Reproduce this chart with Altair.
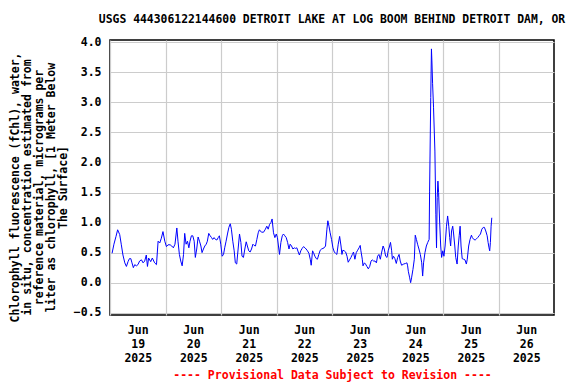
import altair as alt
import pandas as pd

# Hours since 2025-06-19 00:00 and chlorophyll values
hours_a = [0.9, 1.7, 2.6, 3.3, 4.2, 4.9, 5.6, 6.4, 7.1, 7.8,
           8.4, 9.0, 9.5, 10.1, 10.7, 11.4, 12.1, 12.8, 13.6, 14.3,
           15.0, 15.7, 16.2, 16.7, 17.6, 18.3, 19.3, 20.1, 20.8, 21.5,
           22.2, 22.9, 23.7, 24.4, 25.1]
chl_a = [0.49, 0.64, 0.77, 0.88, 0.80, 0.63, 0.46, 0.33, 0.27, 0.35,
         0.40, 0.40, 0.33, 0.25, 0.30, 0.28, 0.30, 0.36, 0.38, 0.33,
         0.36, 0.46, 0.27, 0.41, 0.35, 0.41, 0.33, 0.30, 0.69, 0.66,
         0.74, 0.85, 0.69, 0.60, 0.63]

hours_b = [26.0, 26.7, 27.4, 28.1, 28.9, 29.4, 30.0, 30.6, 31.2, 31.8,
           32.3, 32.9, 33.5, 34.1, 34.6, 35.2, 35.8, 36.4, 36.9, 37.5,
           38.1, 38.7, 39.3, 39.8, 40.4, 41.0, 41.6, 42.1, 42.7, 43.3,
           43.9, 44.4, 45.0, 45.6, 46.2, 46.8, 47.3, 47.9, 48.5, 49.1,
           49.6, 50.2, 50.8, 51.4, 52.0, 52.5, 53.1, 53.7, 54.2]
chl_b = [0.63, 0.61, 0.58, 0.64, 0.91, 0.69, 0.47, 0.36, 0.28, 0.47,
         0.82, 0.64, 0.69, 0.58, 0.69, 0.78, 0.78, 0.69, 0.42, 0.56,
         0.76, 0.69, 0.61, 0.50, 0.56, 0.61, 0.64, 0.69, 0.82, 0.78,
         0.75, 0.72, 0.75, 0.72, 0.71, 0.75, 0.78, 0.64, 0.44, 0.47,
         0.58, 0.69, 0.81, 0.92, 0.98, 0.89, 0.69, 0.53, 0.33]

hours_c = [54.8, 55.4, 56.0, 56.6, 57.1, 57.7, 58.3, 58.9, 59.4, 60.0,
           60.6, 61.2, 61.8, 62.3, 62.9, 63.5, 64.1, 64.6, 65.5, 66.4,
           67.2, 67.8, 68.4, 69.0, 69.6, 70.1, 70.7, 71.3, 71.9, 72.4,
           73.0, 73.3, 73.9, 74.5, 75.0, 75.6, 76.2, 76.8, 77.4, 77.9,
           78.5, 79.1, 79.7, 80.2, 80.8, 81.4, 81.9, 82.5, 83.1, 83.7,
           84.3, 84.8, 85.4, 86.0, 86.6, 87.0, 87.6, 88.0, 88.6, 89.2,
           89.7, 90.3, 90.9, 91.5, 92.1, 92.6, 93.2, 93.8, 94.2, 94.7,
           95.2, 95.8, 96.4, 97.0, 97.5, 98.1, 98.7, 99.3]
chl_c = [0.31, 0.56, 0.81, 0.67, 0.44, 0.42, 0.56, 0.68, 0.61, 0.53,
         0.51, 0.56, 0.64, 0.62, 0.61, 0.72, 0.83, 0.88, 0.84, 0.84,
         0.89, 0.94, 0.89, 0.97, 1.00, 1.06, 0.83, 0.75, 0.81, 0.75,
         0.56, 0.47, 0.67, 0.78, 0.81, 0.78, 0.75, 0.67, 0.56, 0.64,
         0.61, 0.56, 0.58, 0.57, 0.58, 0.51, 0.46, 0.53, 0.57, 0.60,
         0.58, 0.56, 0.53, 0.49, 0.39, 0.29, 0.53, 0.50, 0.44, 0.40,
         0.39, 0.47, 0.54, 0.56, 0.57, 0.58, 0.61, 0.89, 1.03, 0.94,
         0.83, 0.72, 0.58, 0.51, 0.49, 0.47, 0.64, 0.77]

hours_d = [99.9, 100.3, 100.7, 101.3, 101.9, 102.5, 103.0, 103.6, 104.2, 104.8,
           105.3, 105.9, 106.5, 107.1, 107.7, 108.2, 108.5, 109.1, 109.4, 110.0,
           110.5, 111.1, 111.7, 112.3, 112.9, 113.4, 114.0, 114.6, 115.2, 115.7,
           116.3, 116.9, 117.5, 118.1, 118.6, 119.2, 119.8, 120.3, 120.9, 121.3,
           121.8, 122.1, 122.6, 123.2, 123.8, 124.4, 125.0, 125.5, 126.1, 127.0,
           127.8, 128.4, 128.7, 129.0, 129.6, 130.0, 130.4, 131.0, 131.6, 132.0,
           132.5, 133.0, 133.6, 134.2, 134.8, 135.2, 135.6, 136.2, 136.8, 137.4,
           138.0]
chl_d = [0.61, 0.47, 0.54, 0.53, 0.51, 0.44, 0.34, 0.38, 0.42, 0.47,
         0.51, 0.39, 0.50, 0.54, 0.58, 0.62, 0.53, 0.39, 0.28, 0.33,
         0.31, 0.27, 0.23, 0.27, 0.36, 0.38, 0.36, 0.36, 0.33, 0.44,
         0.47, 0.39, 0.51, 0.61, 0.56, 0.44, 0.42, 0.53, 0.61, 0.67,
         0.53, 0.39, 0.44, 0.40, 0.32, 0.42, 0.47, 0.36, 0.29, 0.31,
         0.32, 0.33, 0.28, 0.19, 0.08, 0.00, 0.08, 0.22, 0.39, 0.79,
         0.72, 0.64, 0.56, 0.47, 0.33, 0.11, 0.33, 0.50, 0.61, 0.67,
         0.72]

hours_e = [138.2, 138.7, 139.0, 139.2, 139.5, 139.9, 140.5, 140.9, 141.2, 141.5,
           141.8, 142.1, 142.5, 143.0, 143.4, 143.9, 144.4, 144.9, 145.5, 146.0,
           146.5, 146.9, 147.3, 147.7, 148.2, 148.6, 149.1, 149.5, 150.1, 150.6,
           151.0, 151.4, 151.8, 152.3, 152.9, 153.5, 154.1, 154.5, 155.1, 155.7,
           156.3, 156.7, 157.3, 157.9, 158.5, 159.0, 159.6, 160.2, 160.8, 161.4,
           161.9, 162.5, 163.1, 163.5, 163.9, 164.2, 164.5, 164.8, 165.1]
chl_e = [1.51, 3.08, 3.89, 3.69, 3.31, 2.92, 2.19, 1.14, 0.58, 1.42,
         1.69, 1.50, 1.06, 0.61, 0.42, 0.53, 0.44, 0.61, 0.94, 1.11,
         0.94, 0.75, 0.61, 0.86, 0.94, 0.81, 0.61, 0.42, 0.31, 0.61,
         0.78, 0.94, 0.61, 0.40, 0.39, 0.38, 0.31, 0.39, 0.61, 0.72,
         0.79, 0.75, 0.72, 0.71, 0.73, 0.75, 0.78, 0.81, 0.89, 0.92,
         0.92, 0.86, 0.78, 0.67, 0.58, 0.53, 0.67, 0.94, 1.08]

day_ticks = [0, 24, 48, 72, 96, 120, 144, 168]
y_ticks = [-0.5, 0.0, 0.5, 1.0, 1.5, 2.0, 2.5, 3.0, 3.5, 4.0]

title_text = "USGS 444306122144600 DETROIT LAKE AT LOG BOOM BEHIND DETROIT DAM, OR"
y_title = [
    "Chlorophyll fluorescence (fChl), water,",
    "in situ, concentration estimated from",
    "reference material, micrograms per",
    "liter as chlorophyll, [1 Meter Below",
    "The Surface]",
]
footer = "---- Provisional Data Subject to Revision ----"

hours = hours_a + hours_b + hours_c + hours_d + hours_e
chl = chl_a + chl_b + chl_c + chl_d + chl_e
df = pd.DataFrame({"hour": hours, "chl": chl})

FONT = "DejaVu Sans Mono"
W, H = 444, 275
day_px = W / 8

chart = alt.Chart(df).mark_line(color="#0000ff", strokeWidth=1).encode(
    x=alt.X(
        "hour:Q",
        scale=alt.Scale(domain=[0, 192], nice=False, zero=False),
        axis=alt.Axis(
            values=day_ticks,
            labelExpr="['Jun', toString(19 + datum.value / 24), '2025']",
            labelOffset=day_px / 2,
            labelFlush=False,
            labelOverlap=False,
            ticks=False,
            domain=False,
            grid=True,
            gridColor="#cccccc",
            gridWidth=1.2,
            labelFont=FONT,
            labelFontSize=11.5,
            labelFontWeight="bold",
            labelColor="black",
            labelLineHeight=14,
            labelPadding=9,
            labelBaseline="top",
            title=footer,
            titleColor="red",
            titleFont=FONT,
            titleFontSize=11.5,
            titleFontWeight="bold",
            titlePadding=6,
        ),
    ),
    y=alt.Y(
        "chl:Q",
        scale=alt.Scale(domain=[-0.538, 4.038], nice=False, zero=False),
        axis=alt.Axis(
            values=y_ticks,
            format=".1f",
            ticks=False,
            domain=False,
            grid=True,
            gridColor="#cccccc",
            gridWidth=1.2,
            labelFont=FONT,
            labelFontSize=11.5,
            labelFontWeight="bold",
            labelColor="black",
            labelPadding=9,
            labelOverlap=False,
            title=y_title,
            titleFont=FONT,
            titleFontSize=11.5,
            titleFontWeight="bold",
            titleColor="black",
            titleLineHeight=12.2,
            titleAlign="center",
            titleAngle=270,
            titleBaseline="bottom",
            titleX=-90,
            titleY=147,
        ),
    ),
).properties(
    width=W,
    height=H,
    title=alt.TitleParams(
        title_text,
        font=FONT,
        fontSize=11.4,
        fontWeight="bold",
        color="black",
        anchor="middle",
        offset=11,
    ),
    autosize=alt.AutoSizeParams(type="none"),
    padding={"left": 102, "top": 32, "right": 14, "bottom": 69},
).configure_view(stroke="black", strokeWidth=1.5)

chart.save("out.html", embed_options={"renderer": "svg", "actions": False})
